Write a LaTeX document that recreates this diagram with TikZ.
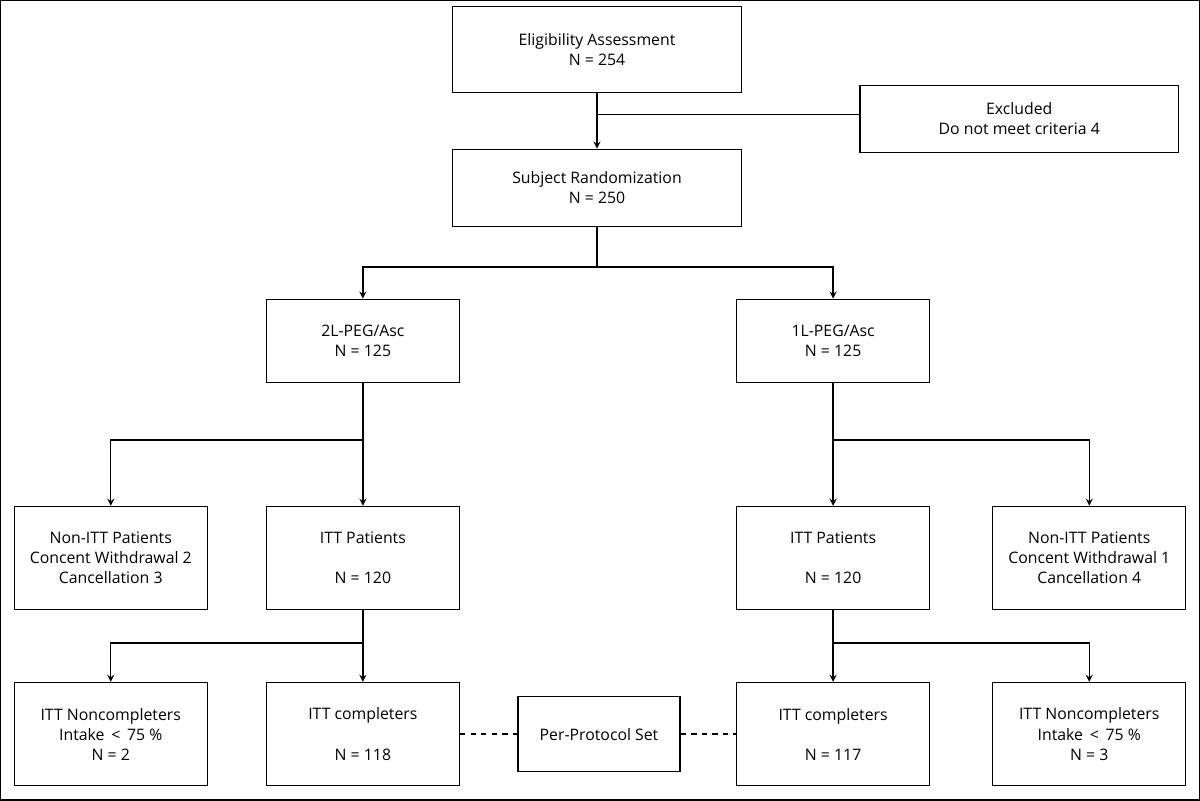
\documentclass[tikz,border=0pt]{standalone}
\usepackage{fontspec}
\setmainfont{Open Sans}
\usetikzlibrary{arrows,positioning}
\tikzstyle{box} = [rectangle, draw=black, thick, text centered, align=center, font=\fontsize{9}{11.4}\selectfont, inner sep=0pt]
\tikzstyle{arrow} = [thick,->,>=stealth]
\begin{document}
\begin{tikzpicture}[x=0.02cm,y=-0.02cm]
		% frame
		\draw[thick] (1,1) rectangle (1199,800);
		% Top
		\node[box, minimum width=5.78cm, minimum height=1.72cm] (elig) at (597,50) {Eligibility Assessment\\N = 254};
		\node[box, minimum width=6.36cm, minimum height=1.34cm] (excl) at (1019,119) {Excluded\\Do not meet criteria 4};
		\node[box, minimum width=5.78cm, minimum height=1.54cm] (rand) at (597,188) {Subject Randomization\\N = 250};
		% Arms
		\begin{scope}[every node/.style={box, minimum width=3.86cm, minimum height=1.66cm}]
		\node (armA) at (363,341) {2L-PEG/Asc\\N = 125};
		\node (armB) at (833,341) {1L-PEG/Asc\\N = 125};
		\end{scope}
		% ITT
		\begin{scope}[every node/.style={box, minimum width=3.86cm, minimum height=2.06cm}]
		\node (nonA) at (111,558) {Non-ITT Patients\\Concent Withdrawal 2\\Cancellation 3};
		\node (ittA) at (363,558) {ITT Patients\\[11.4pt]N = 120};
		\node (ittB) at (833,558) {ITT Patients\\[11.4pt]N = 120};
		\node (nonB) at (1089,558) {Non-ITT Patients\\Concent Withdrawal 1\\Cancellation 4};
		% Completers
		\node (ncA) at (111,734) {ITT Noncompleters\\Intake \,<\, 75 \%\\N = 2};
		\node (cA) at (363,734) {ITT completers\\[11.4pt]N = 118};
		\node (cB) at (833,734) {ITT completers\\[11.4pt]N = 117};
		\node (ncB) at (1089,734) {ITT Noncompleters\\Intake \,<\, 75 \%\\N = 3};
		\end{scope}
		\node[box, minimum width=3.24cm, minimum height=1.5cm] (pps) at (599,734) {Per-Protocol Set};
		% branch points
		\coordinate (exclJ) at (597,115);
		\coordinate (randJ) at (597,267);
		\coordinate (armAJ) at (363,440);
		\coordinate (armBJ) at (833,440);
		\coordinate (ittAJ) at (363,643);
		\coordinate (ittBJ) at (833,643);
		% connectors
		\draw [arrow] (elig)--(rand);
		\draw [thick] (exclJ)--(exclJ-|excl.west);
		\draw [thick] (rand)--(randJ);
		\draw [arrow] (randJ)-|(armA);
		\draw [arrow] (randJ)-|(armB);
		\draw [arrow] (armA)--(ittA);
		\draw [arrow] (armAJ)-|(nonA);
		\draw [arrow] (armB)--(ittB);
		\draw [arrow] (armBJ)-|(nonB);
		\draw [arrow] (ittA)--(cA);
		\draw [arrow] (ittAJ)-|(ncA);
		\draw [arrow] (ittB)--(cB);
		\draw [arrow] (ittBJ)-|(ncB);
		% dashed
		\draw [thick, dashed] (cA)--(pps);
		\draw [thick, dashed] (pps)--(cB);
\end{tikzpicture}
\end{document}
